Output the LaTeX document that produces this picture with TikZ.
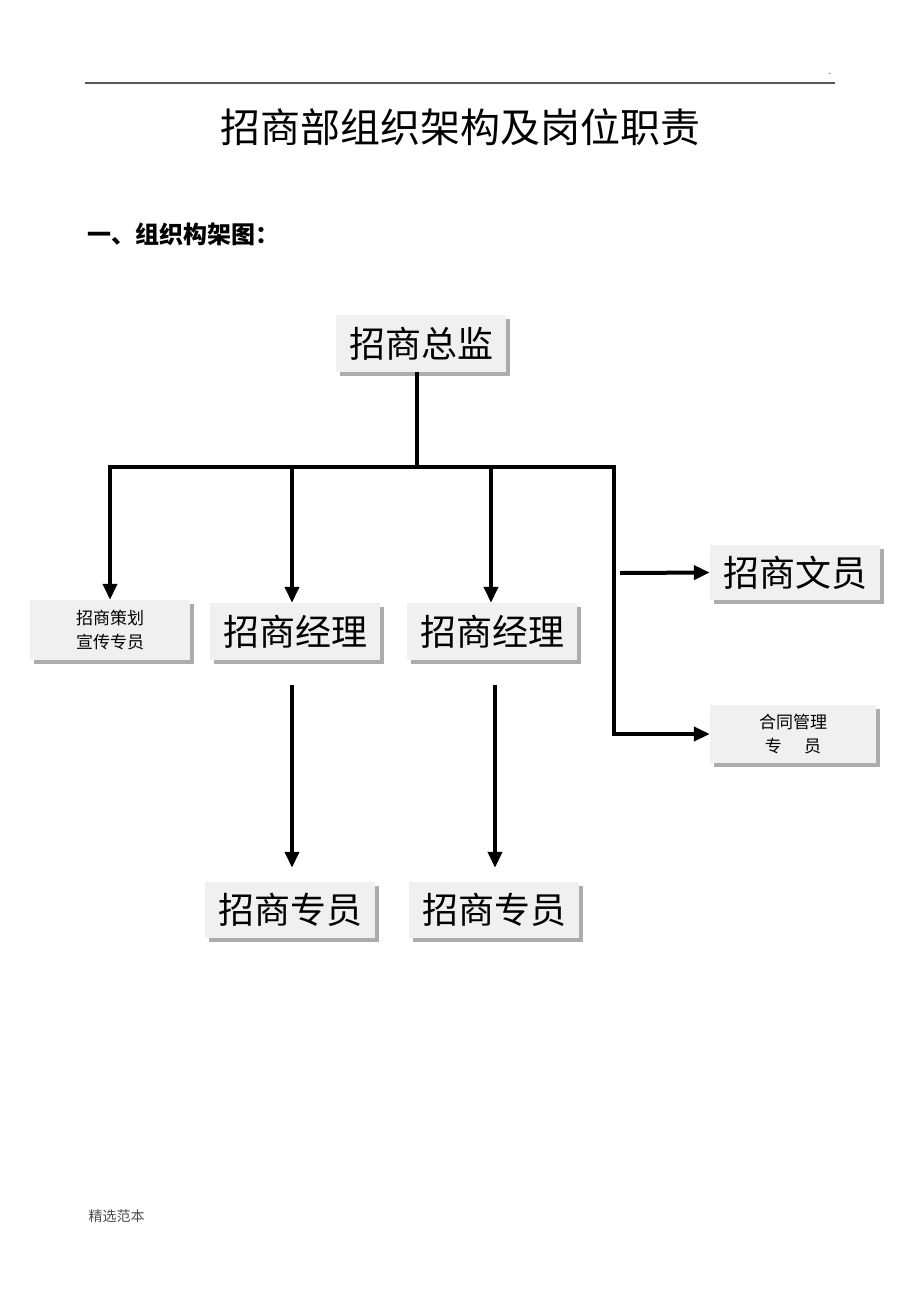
\documentclass[tikz,border=0pt]{standalone}
\usepackage{fontspec}
\setmainfont{Liberation Serif}
\newfontfamily\cjk{Noto Sans CJK SC}
\usetikzlibrary{arrows.meta, shadows}

\begin{document}
\begin{tikzpicture}[x=1pt, y=-1pt,
  box/.style={fill=gray!12, inner sep=0pt, align=center,
    drop shadow={shadow xshift=4pt, shadow yshift=-4pt, fill=gray!65, opacity=1}},
  bigtext/.style={font=\fontsize{36}{40}\selectfont\cjk},
  smalltext/.style={font=\fontsize{17}{24}\selectfont\cjk},
  link/.style={line width=4pt},
  arr/.style={line width=4pt, -{Triangle[length=16pt,width=14pt]}}]
\useasboundingbox (0,0) rectangle (920,1302);
%\draw[step=50,gray,very thin] (0,0) grid (920,1302); %background grid

% page header
\draw[gray!70!black, line width=1.5pt] (85,83) -- (835,83);
\node (dot) at (830,74) {\small .};
\node (title) at (460,127) {\fontsize{40}{44}\selectfont\cjk 招商部组织架构及岗位职责};
\node[anchor=west] (sub) at (84,234) {\fontsize{24}{28}\selectfont\cjk\bfseries 一、组织构架图：};

% boxes
\node[box, bigtext, minimum width=170pt, minimum height=57pt] (boss) at (421,343.5) {招商总监};
\node[box, smalltext, minimum width=160pt, minimum height=60pt] (plan) at (110,630) {招商策划\\宣传专员};
\node[box, bigtext, minimum width=170pt, minimum height=57pt] (m1) at (295,631.5) {招商经理};
\node[box, bigtext, minimum width=170pt, minimum height=57pt] (m2) at (492,631.5) {招商经理};
\node[box, bigtext, minimum width=170pt, minimum height=55pt] (clerk) at (795,572.5) {招商文员};
\node[box, smalltext, minimum width=166pt, minimum height=58pt] (contract) at (793,734) {合同管理\\专\hspace{1.3em}员};
\node[box, bigtext, minimum width=170pt, minimum height=56pt] (s1) at (290,910) {招商专员};
\node[box, bigtext, minimum width=170pt, minimum height=56pt] (s2) at (494,910) {招商专员};

% connectors
\coordinate (hub) at (417,467);
\coordinate (barL) at (110,467);
\coordinate (barR) at (614,467);
\coordinate (drop1) at (292,467);
\coordinate (drop2) at (491,467);
\coordinate (tapC) at (620,573);
\coordinate (down1) at (292,685);
\coordinate (down2) at (495,685);

\draw[link] (boss.south -| hub) -- (hub);
\draw[arr] (barL) -- (plan.north);
\draw[arr] ([xshift=-2pt]barL) -- (hub) -- (barR) |- (contract.west);
\draw[arr] (drop1) -- (drop1 |- m1.north);
\draw[arr] (drop2) -- (drop2 |- m2.north);
\draw[arr] (tapC) -- (clerk.west);
\draw[arr, shorten >=14pt] (down1) -- (down1 |- s1.north);
\draw[arr, shorten >=14pt] (down2) -- (down2 |- s2.north);

% footer
\node[anchor=west, gray!60!black] (foot) at (85,1216) {\fontsize{14}{16}\selectfont\cjk 精选范本};
\end{tikzpicture}
\end{document}
